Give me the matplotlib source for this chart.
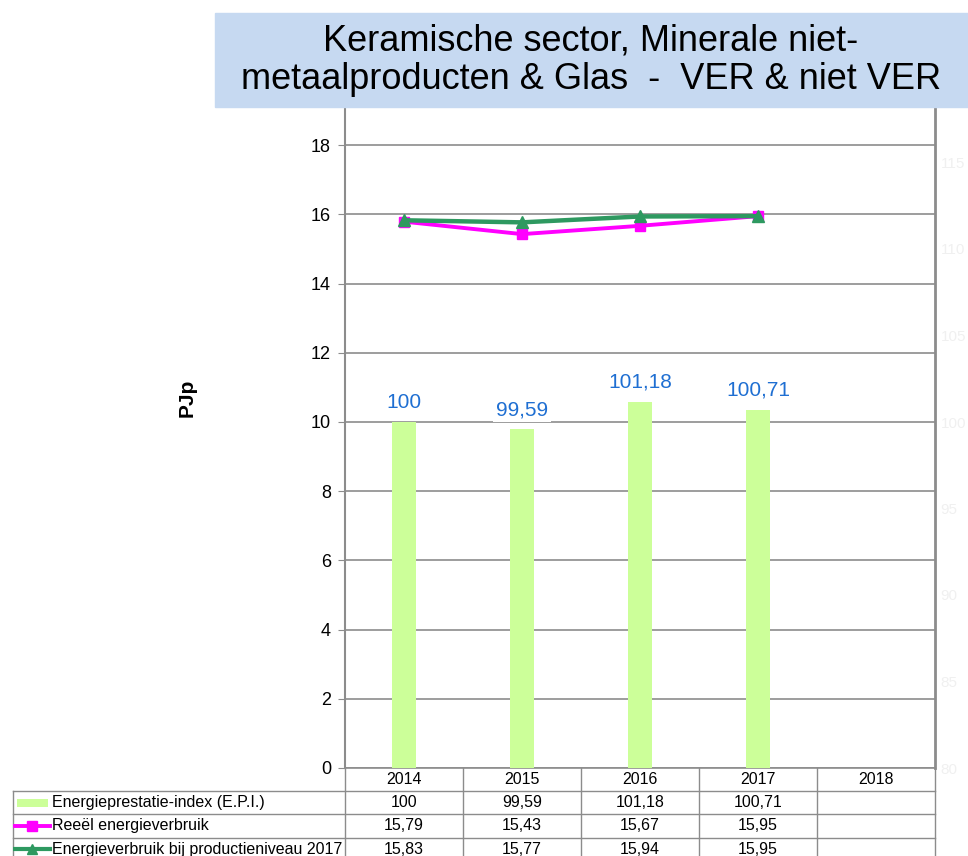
import matplotlib
matplotlib.use("Agg")
import matplotlib.pyplot as plt
from matplotlib.patches import Rectangle

plt.rcParams['font.family'] = ['Liberation Sans', 'DejaVu Sans']

# ---- data ----
years = ["2014", "2015", "2016", "2017", "2018"]
epi = [100, 99.59, 101.18, 100.71]            # Energieprestatie-index (right axis)
reeel = [15.79, 15.43, 15.67, 15.95]           # Reeel energieverbruik (PJp)
prod2017 = [15.83, 15.77, 15.94, 15.95]        # Energieverbruik bij productieniveau 2017 (PJp)
row_labels = ["Energieprestatie-index (E.P.I.)",
              "Reeël energieverbruik",
              "Energieverbruik bij productieniveau 2017"]
title = "Keramische sector, Minerale niet-\nmetaalproducten & Glas  -  VER & niet VER"
ylabel = "PJp"

W, H = 968, 856
BAR_C = "#ccff99"
MAG_C = "#ff00ff"
GRN_C = "#2e9960"
LBL_C = "#1f6fd2"
GRID_C = "#8c8c8c"


def fx(px):
    return px / W


def fy(py):
    return 1 - py / H


def fmt(v):
    return ("%g" % v).replace(".", ",")


fig = plt.figure(figsize=(W / 100, H / 100), dpi=100)

# ---- plot area ----
L, R, T, B = 345, 935, 108, 768
ax = fig.add_axes([fx(L), fy(B), fx(R - L), (B - T) / H])
ymax = (B - T) / 34.6
ax.set_ylim(0, ymax)
ax.set_xlim(-0.5, len(years) - 0.5)
ax.set_yticks(range(0, 19, 2))
ax.tick_params(axis="y", labelsize=13, length=5, color=GRID_C, pad=5)
ax.set_xticks([])
ax.yaxis.grid(True, color=GRID_C, lw=1.2)
ax.set_axisbelow(True)
ax.spines["top"].set_visible(False)
ax.spines["right"].set_visible(False)
ax.spines["left"].set_color(GRID_C)
ax.spines["left"].set_linewidth(1.5)
ax.spines["bottom"].set_color(GRID_C)
ax.spines["bottom"].set_linewidth(1.2)
ax.set_ylabel(ylabel, fontsize=15, fontweight="bold")
ax.yaxis.set_label_coords((197 - L) / (R - L), (B - 398) / (B - T))

# secondary axis with the index bars
ax2 = ax.twinx()
ax2.set_ylim(80, 80 + 2 * ymax)
ax2.set_yticks(range(80, 116, 5))
ax2.tick_params(axis="y", labelsize=11, length=0, pad=4, labelcolor="#f0f0f0")
for s in ("top", "left", "bottom"):
    ax2.spines[s].set_visible(False)
ax2.spines["right"].set_color(GRID_C)
ax2.spines["right"].set_linewidth(2)
xs = list(range(len(epi)))
ax2.bar(xs, epi, width=0.2, color=BAR_C, zorder=2)
for x, v in zip(xs, epi):
    ax2.annotate(fmt(v), (x, v), xytext=(0, 7), textcoords="offset points",
                 ha="center", va="bottom", fontsize=15, color=LBL_C,
                 bbox=dict(boxstyle="square,pad=0.15", fc="white", ec="none"))

# overlay axis for the PJp lines
ax3 = ax.twinx()
ax3.set_ylim(0, ymax)
ax3.axis("off")
ax3.plot(xs, reeel, color=MAG_C, lw=2.8, marker="s", ms=7.5)
ax3.plot(xs, prod2017, color=GRN_C, lw=3.2, marker="^", ms=8)

# ---- data table ----
TL = 13
ROW_H = 23.2
TB = B + 4 * ROW_H
ncol = len(years)
colw = (R - L) / ncol
x_left = -0.5 - (L - TL) / colw
tb = fig.add_axes([fx(TL), fy(TB), fx(R - TL), (TB - B) / H])
tb.set_xlim(x_left, ncol - 0.5)
tb.set_ylim(4, 0)
tb.axis("off")
lw_t = 1.0
for i in range(ncol + 1):
    tb.plot([i - 0.5, i - 0.5], [0, 4], color=GRID_C, lw=lw_t, clip_on=False)
tb.plot([x_left, x_left], [1, 4], color=GRID_C, lw=lw_t, clip_on=False)
for r in (1, 2, 3, 4):
    tb.plot([x_left, ncol - 0.5], [r, r], color=GRID_C, lw=lw_t, clip_on=False)
for i, yr in enumerate(years):
    tb.text(i, 0.5, yr, ha="center", va="center", fontsize=11.5)

rows = [epi, reeel, prod2017]
for r, vals in enumerate(rows, start=1):
    for i, v in enumerate(vals):
        tb.text(i, r + 0.5, fmt(v), ha="center", va="center", fontsize=11.5)

# row labels with legend keys
px = 1 / colw
text_x = x_left + 39 * px
tb.add_patch(Rectangle((x_left + 4 * px, 1.5 - 4 / ROW_H), 31 * px, 8 / ROW_H,
                       color=BAR_C, lw=0))
tb.plot([x_left + 2 * px, x_left + 37 * px], [2.5, 2.5], color=MAG_C, lw=2.8)
tb.plot([x_left + 19 * px], [2.5], marker="s", ms=7, color=MAG_C)
tb.plot([x_left + 2 * px, x_left + 37 * px], [3.5, 3.5], color=GRN_C, lw=3)
tb.plot([x_left + 19 * px], [3.5], marker="^", ms=7, color=GRN_C)
for r, lab in enumerate(row_labels, start=1):
    tb.text(text_x, r + 0.5, lab, ha="left", va="center", fontsize=11.5)

# ---- title box ----
fig.patches.append(Rectangle((fx(215), fy(107)), fx(W - 215), (107 - 13) / H,
                             transform=fig.transFigure, color="#c6d9f1", zorder=0))
fig.text(fx(591), fy(60), title, ha="center", va="center", fontsize=26,
         linespacing=1.12)

fig.savefig("out.png", dpi=100)
